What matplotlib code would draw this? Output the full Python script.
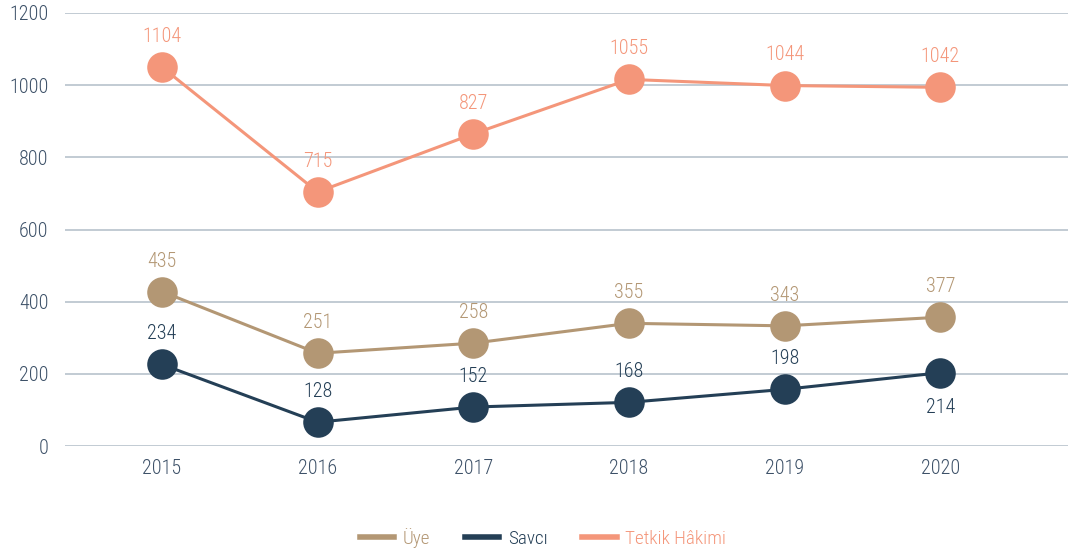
import matplotlib.pyplot as plt

plt.rcParams['font.family'] = ['Roboto Condensed', 'IBM Plex Sans Condensed', 'DejaVu Sans']
plt.rcParams['font.weight'] = 'light'

years = ['2015', '2016', '2017', '2018', '2019', '2020']

# marker heights as drawn in the picture
uye = [428, 257, 285, 340, 333, 357]
savci = [226, 66, 108, 121, 157, 203]
tetkik = [1050, 704, 865, 1016, 999, 994]

# value labels as printed
uye_lbl = [435, 251, 258, 355, 343, 377]
savci_lbl = [234, 128, 152, 168, 198, 214]
tetkik_lbl = [1104, 715, 827, 1055, 1044, 1042]

c_uye = '#b39774'
c_savci = '#243f56'
c_tetkik = '#f4967a'
c_text = '#3d5168'

fig = plt.figure(figsize=(10.68, 5.53), dpi=100)
ax = fig.add_axes([65 / 1068, 107 / 553, 1003 / 1068, 433 / 553])

x = list(range(len(years)))
series = [
    ('Üye', uye, uye_lbl, c_uye),
    ('Savcı', savci, savci_lbl, c_savci),
    ('Tetkik Hâkimi', tetkik, tetkik_lbl, c_tetkik),
]
for name, vals, lbls, col in series:
    ax.plot(x, vals, color=col, lw=2.2, marker='o', markersize=22,
            markeredgewidth=0, label=name, zorder=3)
    for i, (v, l) in enumerate(zip(vals, lbls)):
        if name == 'Savcı' and i == len(vals) - 1:
            ax.annotate(str(l), (i, v), xytext=(0, -25), textcoords='offset points',
                        ha='center', va='center', color=col, fontsize=14.5)
        else:
            ax.annotate(str(l), (i, v), xytext=(0, 22), textcoords='offset points',
                        ha='center', va='center', color=col, fontsize=14.5)

ax.set_xlim(-0.623, 5.82)
ax.set_ylim(0, 1200)
ax.set_yticks(range(0, 1201, 200))
ax.set_xticks(x)
ax.set_xticklabels(years)
ax.grid(axis='y', color='#b8c2cc', lw=1.2)
ax.set_axisbelow(True)
for s in ax.spines.values():
    s.set_visible(False)
ax.tick_params(length=0, labelsize=14.5, colors=c_text)
ax.tick_params(axis='y', pad=12)
ax.tick_params(axis='x', pad=9)

handles = [plt.Line2D([], [], color=col, lw=4) for _, _, _, col in series]
fig.legend(handles, [s[0] for s in series], loc='center', ncol=3,
           bbox_to_anchor=(543 / 1068, 1 - 538 / 553), frameon=False,
           fontsize=13.8, handlelength=1.8, columnspacing=1.8, handletextpad=0.45,
           labelcolor=[s[3] for s in series])

fig.savefig('out.png', dpi=100)
